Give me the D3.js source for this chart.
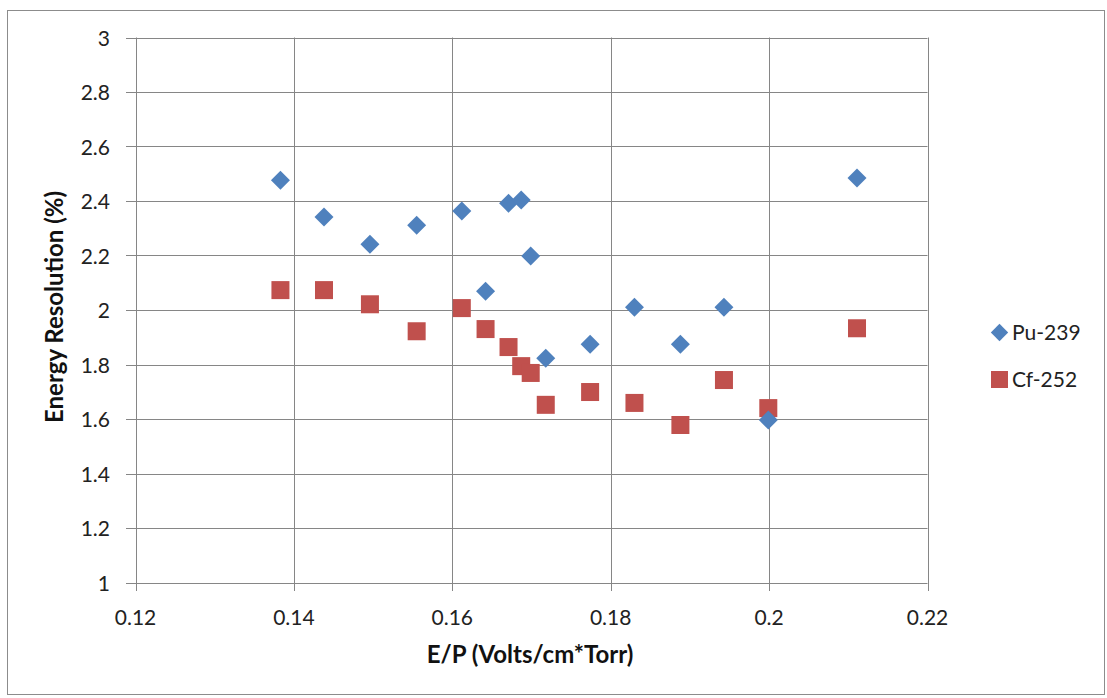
<!DOCTYPE html>
<html><head><meta charset="utf-8">
<script src="https://cdn.jsdelivr.net/npm/d3@7"></script>
<style>body{margin:0;background:#fff}svg{display:block}text{font-family:Lato,"Open Sans",sans-serif}</style>
</head><body>
<svg id="c" width="1107" height="698"></svg>
<script>
const epValues = [0.1383,0.1438,0.1496,0.1555,0.1612,0.1642,0.1671,0.1687,0.1699,0.1718,0.1774,0.1830,0.1888,0.1943,0.1999,0.2111];
const pu239 = [2.476,2.341,2.241,2.311,2.363,2.069,2.392,2.404,2.198,1.823,1.874,2.010,1.874,2.010,1.596,2.484];
const cf252 = [2.073,2.073,2.021,1.922,2.007,1.930,1.864,1.794,1.769,1.652,1.699,1.659,1.578,1.743,1.640,1.933];
const xTicks = [0.12,0.14,0.16,0.18,0.2,0.22];
const yTicks = [1,1.2,1.4,1.6,1.8,2,2.2,2.4,2.6,2.8,3];
const seriesNames = ["Pu-239","Cf-252"];

const svg = d3.select("#c");
svg.append("rect").attr("x",7.5).attr("y",10.5).attr("width",1097).attr("height",684)
  .attr("fill","#fff").attr("stroke","#8c8c8c").attr("stroke-width",1);

const x = d3.scaleLinear().domain([0.12,0.22]).range([135.5,927.5]);
const y = d3.scaleLinear().domain([1,3]).range([582.5,37.5]);
const gridColor = "#868686";

svg.append("g").selectAll("line").data(yTicks).join("line")
  .attr("x1",126).attr("x2",x(0.22)).attr("y1",d=>Math.round(y(d))+0.5).attr("y2",d=>Math.round(y(d))+0.5)
  .attr("stroke",gridColor).attr("stroke-width",1);
svg.append("g").selectAll("line").data(xTicks).join("line")
  .attr("y1",y(3)).attr("y2",591).attr("x1",d=>Math.round(x(d))+0.5).attr("x2",d=>Math.round(x(d))+0.5)
  .attr("stroke",gridColor).attr("stroke-width",1);

svg.append("g").selectAll("text").data(yTicks).join("text")
  .attr("x",110).attr("y",d=>y(d)+8).attr("text-anchor","end")
  .attr("font-size",21).attr("fill","#222").text(d=>d3.format("~g")(d));
svg.append("g").selectAll("text").data(xTicks).join("text")
  .attr("x",d=>x(d)).attr("y",625).attr("text-anchor","middle")
  .attr("font-size",21).attr("fill","#222").text(d=>d3.format("~g")(d));

svg.append("text").attr("x",530).attr("y",663).attr("text-anchor","middle")
  .attr("font-size",24).attr("font-weight","bold").attr("fill","#111").text("E/P (Volts/cm*Torr)");
svg.append("text").attr("transform","translate(63,307) rotate(-90)").attr("text-anchor","middle")
  .attr("font-size",24).attr("font-weight","bold").attr("fill","#111").text("Energy Resolution (%)");

const blue = "#4F81BD", red = "#C0504D";
const sq = 18;

svg.append("g").selectAll("rect").data(epValues.map((e,i)=>[e,cf252[i]])).join("rect")
  .attr("x",d=>x(d[0])-sq/2).attr("y",d=>y(d[1])-sq/2).attr("width",sq).attr("height",sq)
  .attr("fill",red);
svg.append("g").selectAll("path").data(epValues.map((e,i)=>[e,pu239[i]])).join("path")
  .attr("d",d3.symbol().type(d3.symbolSquare).size(180))
  .attr("transform",d=>`translate(${x(d[0])},${y(d[1])}) rotate(45)`)
  .attr("fill",blue);

const lg = svg.append("g");
lg.append("path").attr("d",d3.symbol().type(d3.symbolSquare).size(150))
  .attr("transform","translate(999.5,332.5) rotate(45)").attr("fill",blue);
lg.append("text").attr("x",1012).attr("y",340).attr("font-size",21).attr("fill","#222").text(seriesNames[0]);
lg.append("rect").attr("x",991).attr("y",371).attr("width",17).attr("height",17).attr("fill",red);
lg.append("text").attr("x",1012).attr("y",387).attr("font-size",21).attr("fill","#222").text(seriesNames[1]);
</script>
</body></html>
